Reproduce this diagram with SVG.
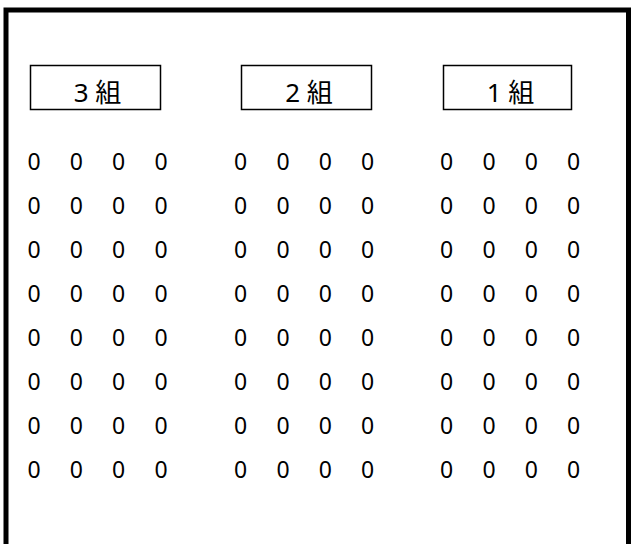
<svg xmlns="http://www.w3.org/2000/svg" width="632" height="544" viewBox="0 0 632 544">
<style>
.room{fill:none;stroke:#000;stroke-width:5}
.box{fill:#fff;stroke:#000;stroke-width:1.5}
.lbl{font-family:"Noto Sans","Noto Sans CJK JP",sans-serif;font-size:26px;fill:#000;text-anchor:middle}
.s{font-family:"Noto Sans","Noto Sans CJK JP",sans-serif;font-size:23px;fill:#000;text-anchor:middle}
</style>
<rect width="632" height="544" fill="#fff"/>
<g id="room"><rect class="room" x="6" y="10" width="622.5" height="600"/></g>
<g id="connectors"/>
<g id="label-3"><rect class="box" x="30.5" y="65.5" width="130" height="44"/><text class="lbl" x="97.5" y="102">3 組</text></g>
<g id="label-2"><rect class="box" x="241.5" y="65.5" width="130" height="44"/><text class="lbl" x="309" y="102">2 組</text></g>
<g id="label-1"><rect class="box" x="443.5" y="65.5" width="128" height="44"/><text class="lbl" x="510.5" y="102">1 組</text></g>
<g id="seats-3">
<text class="s" x="34" y="170">0</text><text class="s" x="76.3" y="170">0</text><text class="s" x="118.6" y="170">0</text><text class="s" x="161" y="170">0</text>
<text class="s" x="34" y="214">0</text><text class="s" x="76.3" y="214">0</text><text class="s" x="118.6" y="214">0</text><text class="s" x="161" y="214">0</text>
<text class="s" x="34" y="258">0</text><text class="s" x="76.3" y="258">0</text><text class="s" x="118.6" y="258">0</text><text class="s" x="161" y="258">0</text>
<text class="s" x="34" y="302">0</text><text class="s" x="76.3" y="302">0</text><text class="s" x="118.6" y="302">0</text><text class="s" x="161" y="302">0</text>
<text class="s" x="34" y="346">0</text><text class="s" x="76.3" y="346">0</text><text class="s" x="118.6" y="346">0</text><text class="s" x="161" y="346">0</text>
<text class="s" x="34" y="390">0</text><text class="s" x="76.3" y="390">0</text><text class="s" x="118.6" y="390">0</text><text class="s" x="161" y="390">0</text>
<text class="s" x="34" y="434">0</text><text class="s" x="76.3" y="434">0</text><text class="s" x="118.6" y="434">0</text><text class="s" x="161" y="434">0</text>
<text class="s" x="34" y="478">0</text><text class="s" x="76.3" y="478">0</text><text class="s" x="118.6" y="478">0</text><text class="s" x="161" y="478">0</text>
</g>
<g id="seats-2">
<text class="s" x="240.5" y="170">0</text><text class="s" x="283" y="170">0</text><text class="s" x="325.3" y="170">0</text><text class="s" x="367.7" y="170">0</text>
<text class="s" x="240.5" y="214">0</text><text class="s" x="283" y="214">0</text><text class="s" x="325.3" y="214">0</text><text class="s" x="367.7" y="214">0</text>
<text class="s" x="240.5" y="258">0</text><text class="s" x="283" y="258">0</text><text class="s" x="325.3" y="258">0</text><text class="s" x="367.7" y="258">0</text>
<text class="s" x="240.5" y="302">0</text><text class="s" x="283" y="302">0</text><text class="s" x="325.3" y="302">0</text><text class="s" x="367.7" y="302">0</text>
<text class="s" x="240.5" y="346">0</text><text class="s" x="283" y="346">0</text><text class="s" x="325.3" y="346">0</text><text class="s" x="367.7" y="346">0</text>
<text class="s" x="240.5" y="390">0</text><text class="s" x="283" y="390">0</text><text class="s" x="325.3" y="390">0</text><text class="s" x="367.7" y="390">0</text>
<text class="s" x="240.5" y="434">0</text><text class="s" x="283" y="434">0</text><text class="s" x="325.3" y="434">0</text><text class="s" x="367.7" y="434">0</text>
<text class="s" x="240.5" y="478">0</text><text class="s" x="283" y="478">0</text><text class="s" x="325.3" y="478">0</text><text class="s" x="367.7" y="478">0</text>
</g>
<g id="seats-1">
<text class="s" x="446.5" y="170">0</text><text class="s" x="489" y="170">0</text><text class="s" x="531.3" y="170">0</text><text class="s" x="573.7" y="170">0</text>
<text class="s" x="446.5" y="214">0</text><text class="s" x="489" y="214">0</text><text class="s" x="531.3" y="214">0</text><text class="s" x="573.7" y="214">0</text>
<text class="s" x="446.5" y="258">0</text><text class="s" x="489" y="258">0</text><text class="s" x="531.3" y="258">0</text><text class="s" x="573.7" y="258">0</text>
<text class="s" x="446.5" y="302">0</text><text class="s" x="489" y="302">0</text><text class="s" x="531.3" y="302">0</text><text class="s" x="573.7" y="302">0</text>
<text class="s" x="446.5" y="346">0</text><text class="s" x="489" y="346">0</text><text class="s" x="531.3" y="346">0</text><text class="s" x="573.7" y="346">0</text>
<text class="s" x="446.5" y="390">0</text><text class="s" x="489" y="390">0</text><text class="s" x="531.3" y="390">0</text><text class="s" x="573.7" y="390">0</text>
<text class="s" x="446.5" y="434">0</text><text class="s" x="489" y="434">0</text><text class="s" x="531.3" y="434">0</text><text class="s" x="573.7" y="434">0</text>
<text class="s" x="446.5" y="478">0</text><text class="s" x="489" y="478">0</text><text class="s" x="531.3" y="478">0</text><text class="s" x="573.7" y="478">0</text>
</g>
</svg>
